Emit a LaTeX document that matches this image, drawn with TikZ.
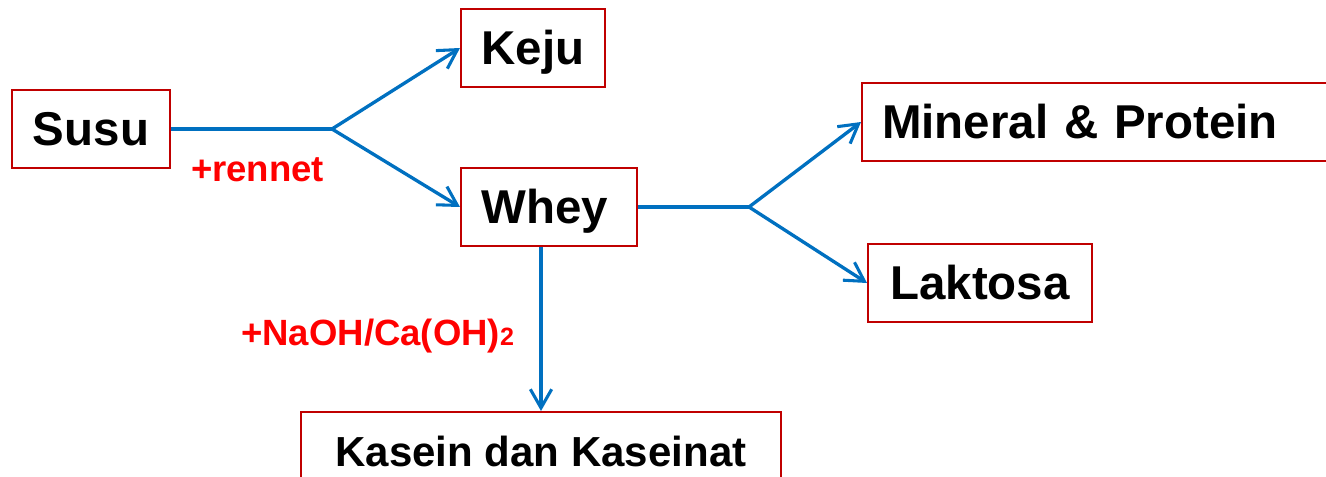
\documentclass[tikz,border=0pt]{standalone}
\usepackage{fontspec}
\setmainfont{Liberation Sans}
\usetikzlibrary{arrows.meta}
\definecolor{boxred}{HTML}{C00000}
\definecolor{flowblue}{HTML}{0070C0}
\definecolor{addred}{HTML}{FF0000}
\begin{document}
\begin{tikzpicture}[x=0.75pt,y=-0.75pt,
  box/.style={draw=boxred, line width=1.5pt, inner sep=0pt,
    minimum height=78*0.75pt, text height=25.2pt, text depth=0pt,
    font=\fontsize{35.6pt}{40pt}\selectfont\bfseries},
  flow/.style={draw=flowblue, line width=2.5pt, line join=miter,
    -{Straight Barb[length=14pt,width=16pt,line width=2.3pt]}},
  flowline/.style={draw=flowblue, line width=2.5pt},
  addlabel/.style={text=addred, inner sep=0pt,
    font=\fontsize{27.4pt}{30pt}\selectfont\bfseries}]
\useasboundingbox (0,0) rectangle (1326,477);

% products
\node[box, minimum width=158*0.75pt] (susu) at (91,129) {Susu};
\node[box, minimum width=144*0.75pt] (keju) at (533,48) {Keju};
\node[box, minimum width=176*0.75pt, text width=176*0.75pt, align=left]
  (whey) at (549,207) {\hspace*{15.5pt}Whey};
\node[box, minimum width=470*0.75pt, text width=430*0.75pt, align=left,
  anchor=west] (mp) at (861,122) {Mineral \& Protein};
\node[box, minimum width=224*0.75pt] (lak) at (980,283) {Laktosa};
\node[box, anchor=north, minimum width=480*0.75pt, inner ysep=15.75pt,
  text height=22.6pt, font=\fontsize{31.5pt}{36pt}\selectfont\bfseries]
  (kas) at (541,411) {Kasein dan Kaseinat};

% branching points
\coordinate (s1) at (332,129);
\coordinate (s2) at (749,207);

% connectors
\draw[flowline] (susu.east) -- (s1);
\draw[flow] (s1) -- (keju.west);
\draw[flow] (s1) -- (whey.west);
\draw[flowline] (whey.east) -- (s2);
\draw[flow] (s2) -- (mp.west);
\draw[flow] (s2) -- (lak.west);
\draw[flow] (kas.north |- whey.south) -- (kas.north);

% additives
\node[addlabel, anchor=base] (rennet) at (257.5,182) {+rennet};
\node[addlabel, anchor=base west] (naoh) at (241,345)
  {+NaOH/Ca(OH){\fontsize{18.8pt}{20pt}\selectfont 2}};
\end{tikzpicture}
\end{document}
